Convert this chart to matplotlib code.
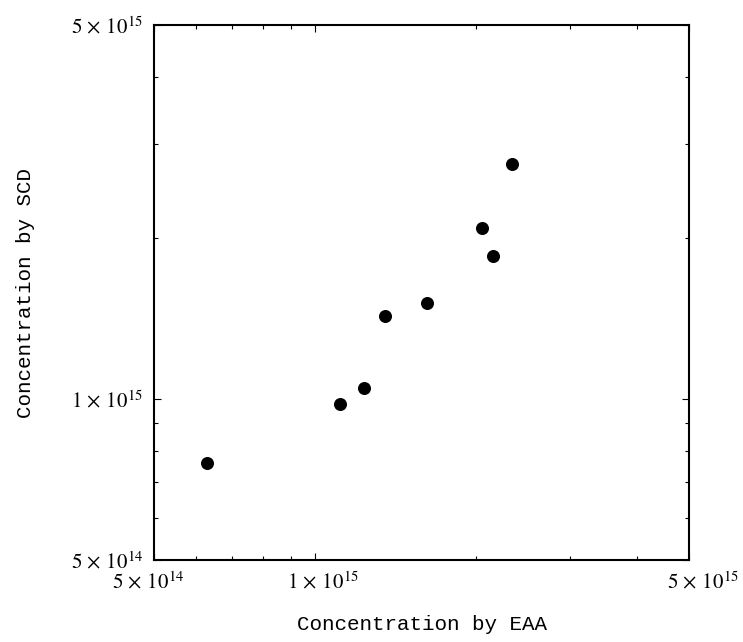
import matplotlib
matplotlib.use("Agg")
import matplotlib.pyplot as plt
from matplotlib.ticker import FixedLocator, LogLocator, NullFormatter
from matplotlib.transforms import ScaledTranslation

# data (log-log scatter)
eaa = [6.27e14, 1.113e15, 1.233e15, 1.353e15, 1.621e15, 2.05e15, 2.155e15, 2.337e15]
scd = [7.58e14, 9.79e14, 1.047e15, 1.427e15, 1.514e15, 2.09e15, 1.853e15, 2.753e15]

tick_vals = [5e14, 1e15, 5e15]
tick_labels = [r"$5\,\times\,10^{14}$", r"$1\,\times\,10^{15}$", r"$5\,\times\,10^{15}$"]

plt.rcParams["mathtext.fontset"] = "stix"

fig = plt.figure(figsize=(7.43, 6.42), dpi=100)
ax = fig.add_axes([0.2073, 0.1277, 0.72, 0.8333])

ax.scatter(eaa, scd, s=70, color="black", zorder=3)

ax.set_xscale("log")
ax.set_yscale("log")
ax.set_xlim(5e14, 5e15)
ax.set_ylim(5e14, 5e15)

ax.xaxis.set_major_locator(FixedLocator(tick_vals))
ax.yaxis.set_major_locator(FixedLocator(tick_vals))
ax.set_xticklabels(tick_labels, fontsize=15)
ax.set_yticklabels(tick_labels, fontsize=15)
ax.xaxis.set_minor_locator(LogLocator(base=10, subs=range(2, 10)))
ax.yaxis.set_minor_locator(LogLocator(base=10, subs=range(2, 10)))
ax.xaxis.set_minor_formatter(NullFormatter())
ax.yaxis.set_minor_formatter(NullFormatter())

ax.tick_params(which="both", direction="in", top=True, right=True, width=0.8)
ax.tick_params(which="major", length=5, pad=8)
ax.tick_params(which="minor", length=3)

# x labels in the original sit a bit off their ticks
shifts = [-6, 8, 14]
for lab, dx in zip(ax.get_xticklabels(), shifts):
    lab.set_transform(lab.get_transform() + ScaledTranslation(dx / 100, 0, fig.dpi_scale_trans))

for s in ax.spines.values():
    s.set_linewidth(1.5)

ax.set_xlabel("Concentration by EAA", family="Liberation Mono", fontsize=15, labelpad=16)
ax.set_ylabel("Concentration by SCD", family="Liberation Mono", fontsize=15, labelpad=26)

fig.savefig("out.png", dpi=100)
